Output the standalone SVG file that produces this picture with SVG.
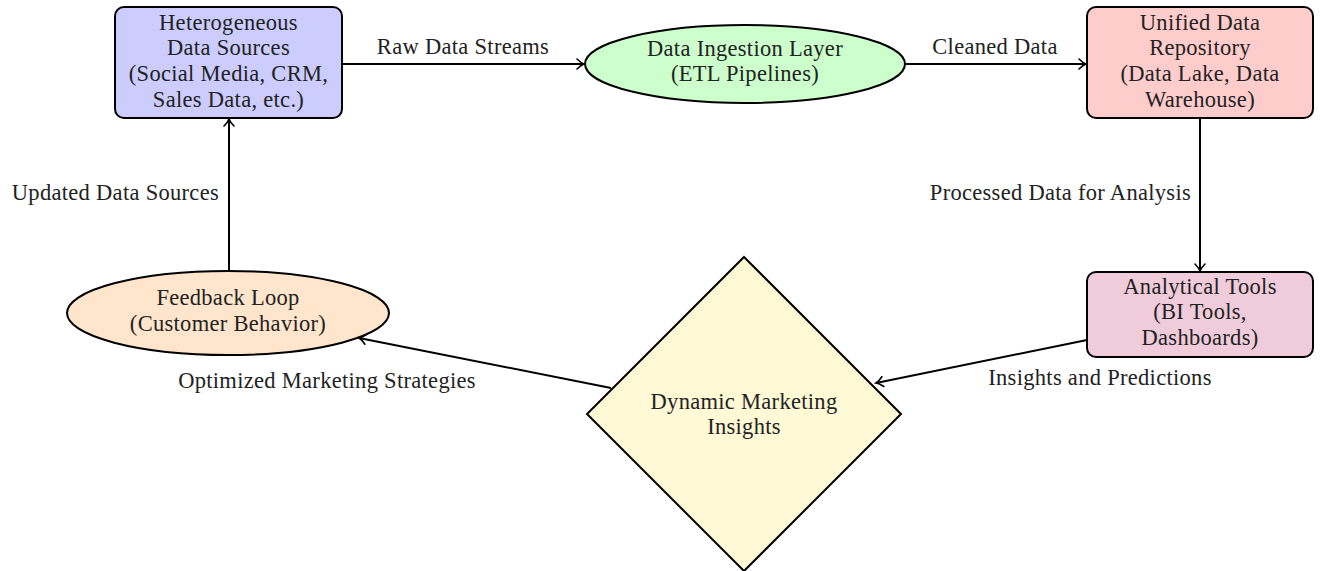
<svg xmlns="http://www.w3.org/2000/svg" width="1320" height="571" viewBox="0 0 1320 571">
<style>
text{font-family:"Liberation Serif","Times New Roman",serif;font-size:22.5px;letter-spacing:0.3px;fill:#222;text-anchor:middle}
.n{stroke:#000;stroke-width:2}
.e{stroke:#000;stroke-width:2;fill:none;marker-end:url(#ah)}
</style>
<defs>
<marker id="ah" viewBox="-8 -6 10 12" refX="0" refY="0" markerWidth="10" markerHeight="12" markerUnits="userSpaceOnUse" orient="auto">
<path d="M-7,-5 Q-3,-1 0,0 Q-3,1 -7,5" fill="none" stroke="#000" stroke-width="1.6" stroke-linecap="round"/>
</marker>
</defs>
<rect width="1320" height="571" fill="#fff"/>
<g id="connectors">
<line class="e" x1="342" y1="64" x2="584" y2="64"/>
<line class="e" x1="905" y1="64" x2="1086" y2="64"/>
<line class="e" x1="1200" y1="118" x2="1200" y2="271"/>
<line class="e" x1="1087" y1="340" x2="876" y2="383"/>
<line class="e" x1="611" y1="388" x2="359" y2="338"/>
<line class="e" x1="229" y1="271" x2="229" y2="119"/>
<text x="463" y="54">Raw Data Streams</text>
<text x="995" y="54">Cleaned Data</text>
<text x="1191" y="200" style="text-anchor:end">Processed Data for Analysis</text>
<text x="1100" y="385">Insights and Predictions</text>
<text x="327" y="388">Optimized Marketing Strategies</text>
<text x="219" y="200" style="text-anchor:end">Updated Data Sources</text>
</g>
<g id="sources">
<rect class="n" x="115" y="7" width="227" height="111" rx="9" fill="#ccccff"/>
<text x="228.5" y="30">Heterogeneous</text>
<text x="228.5" y="55">Data Sources</text>
<text x="228.5" y="81">(Social Media, CRM,</text>
<text x="228.5" y="107">Sales Data, etc.)</text>
</g>
<g id="ingestion">
<ellipse class="n" cx="745" cy="64" rx="160" ry="39" fill="#ccffcc"/>
<text x="745" y="56">Data Ingestion Layer</text>
<text x="745" y="81">(ETL Pipelines)</text>
</g>
<g id="repository">
<rect class="n" x="1087" y="7" width="226" height="111" rx="9" fill="#ffcccc"/>
<text x="1200" y="30">Unified Data</text>
<text x="1200" y="55">Repository</text>
<text x="1200" y="81">(Data Lake, Data</text>
<text x="1200" y="107">Warehouse)</text>
</g>
<g id="analytics">
<rect class="n" x="1087" y="272" width="226" height="85" rx="9" fill="#f0ccdb"/>
<text x="1200" y="294">Analytical Tools</text>
<text x="1200" y="319">(BI Tools,</text>
<text x="1200" y="345">Dashboards)</text>
</g>
<g id="insights">
<polygon class="n" points="744,257 901,414 744,571 587,414" fill="#fff9d6"/>
<text x="744" y="409">Dynamic Marketing</text>
<text x="744" y="434">Insights</text>
</g>
<g id="feedback">
<ellipse class="n" cx="228" cy="313" rx="161" ry="42" fill="#ffe5cc"/>
<text x="228" y="305">Feedback Loop</text>
<text x="228" y="331">(Customer Behavior)</text>
</g>
</svg>
